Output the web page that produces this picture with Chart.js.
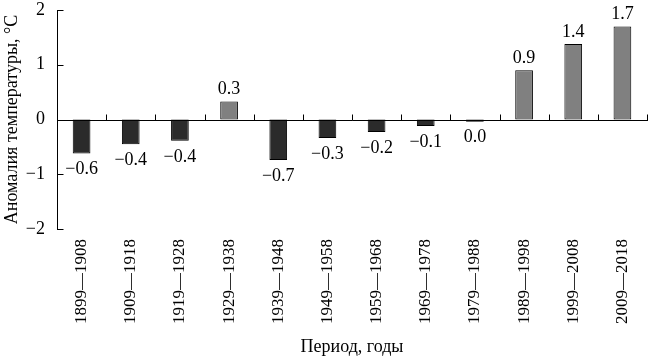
<!DOCTYPE html>
<html lang="ru">
<head>
  <meta charset="UTF-8">
  <title>Аномалия температуры</title>
  <script src="https://cdn.jsdelivr.net/npm/chart.js"></script>
  <style>
    body {
      margin: 0;
      background-color: white;
    }
    .chart-container {
      position: relative;
      width: 650px;
      height: 358px;
    }
  </style>
</head>
<body>
  <div class="chart-container">
    <canvas id="anomalyChart"></canvas>
  </div>
  <script>
    // Periods (decades)
    const periods = ['1899—1908', '1909—1918', '1919—1928', '1929—1938', '1939—1948', '1949—1958',
                     '1959—1968', '1969—1978', '1979—1988', '1989—1998', '1999—2008', '2009—2018'];
    // Anomaly values
    const anomalies = [-0.62, -0.45, -0.39, 0.33, -0.74, -0.34, -0.23, -0.12, -0.04, 0.90, 1.38, 1.70];
    // Printed value labels
    const valueLabels = ['−0.6', '−0.4', '−0.4', '0.3', '−0.7', '−0.3', '−0.2', '−0.1', '0.0', '0.9', '1.4', '1.7'];
    const yTicks = [-2, -1, 0, 1, 2];

    const serif = "'Liberation Serif', 'Times New Roman', serif";

    // Axis lines, inner ticks and value labels
    const axesAndLabels = {
      id: 'axesAndLabels',
      afterDatasetsDraw(chart) {
        const ctx = chart.ctx;
        const area = chart.chartArea;
        const y = chart.scales.y;
        const left = Math.round(area.left) + 0.5;
        const right = Math.round(area.right);
        const zero = Math.round(y.getPixelForValue(0)) + 0.5;

        ctx.save();
        ctx.strokeStyle = '#000';
        ctx.lineWidth = 1;
        ctx.beginPath();
        // y axis
        ctx.moveTo(left, Math.round(area.top));
        ctx.lineTo(left, Math.round(area.bottom) + 1);
        yTicks.forEach(v => {
          const py = Math.round(y.getPixelForValue(v)) + 0.5;
          ctx.moveTo(left, py);
          ctx.lineTo(left + 6, py);
        });
        // zero line with category boundary ticks
        ctx.moveTo(left, zero);
        ctx.lineTo(right + 1, zero);
        const step = (area.right - area.left) / periods.length;
        for (let i = 1; i <= periods.length; i++) {
          const px = Math.round(area.left + step * i) + 0.5;
          ctx.moveTo(px, zero);
          ctx.lineTo(px, zero - 6);
        }
        ctx.stroke();

        // value labels
        ctx.fillStyle = '#000';
        ctx.font = '18px ' + serif;
        ctx.textAlign = 'center';
        const meta = chart.getDatasetMeta(0);
        meta.data.forEach((bar, i) => {
          if (anomalies[i] >= 0) {
            ctx.textBaseline = 'alphabetic';
            ctx.fillText(valueLabels[i], bar.x, bar.y - 7);
          } else {
            ctx.textBaseline = 'top';
            ctx.fillText(valueLabels[i], bar.x, bar.y + 7);
          }
        });
        ctx.restore();
      }
    };

    new Chart(document.getElementById('anomalyChart'), {
      type: 'bar',
      data: {
        labels: periods,
        datasets: [{
          data: anomalies,
          backgroundColor: anomalies.map(v => v >= 0 ? '#808080' : '#2b2b2b'),
          borderColor: '#000',
          borderWidth: 1,
          borderSkipped: false,
          categoryPercentage: 1,
          barPercentage: 0.36
        }]
      },
      options: {
        responsive: true,
        maintainAspectRatio: false,
        animation: false,
        layout: { padding: { top: 10, right: 3, left: 0, bottom: 0 } },
        plugins: {
          legend: { display: false },
          tooltip: { enabled: false }
        },
        scales: {
          x: {
            grid: { display: false, drawTicks: false },
            border: { display: false },
            ticks: {
              color: '#000',
              font: { family: serif, size: 17 },
              minRotation: 90,
              maxRotation: 90,
              autoSkip: false,
              padding: 10
            },
            title: {
              display: true,
              text: 'Период, годы',
              color: '#000',
              font: { family: serif, size: 18 },
              padding: 0
            },
            afterFit(scale) {
              scale.height = 129;
              scale.paddingLeft = 0;
              scale.paddingRight = 0;
            }
          },
          y: {
            min: -2,
            max: 2,
            grid: { display: false, drawTicks: false },
            border: { display: false },
            ticks: {
              stepSize: 1,
              color: '#000',
              font: { family: serif, size: 18 },
              padding: 12,
              callback: v => (v < 0 ? '−' + Math.abs(v) : String(v))
            },
            title: {
              display: true,
              text: 'Аномалия температуры, °C',
              color: '#000',
              font: { family: serif, size: 18 },
              padding: 1
            },
            afterFit(scale) {
              scale.width = 57;
              scale.paddingTop = 0;
              scale.paddingBottom = 0;
            }
          }
        }
      },
      plugins: [axesAndLabels]
    });
  </script>
</body>
</html>
